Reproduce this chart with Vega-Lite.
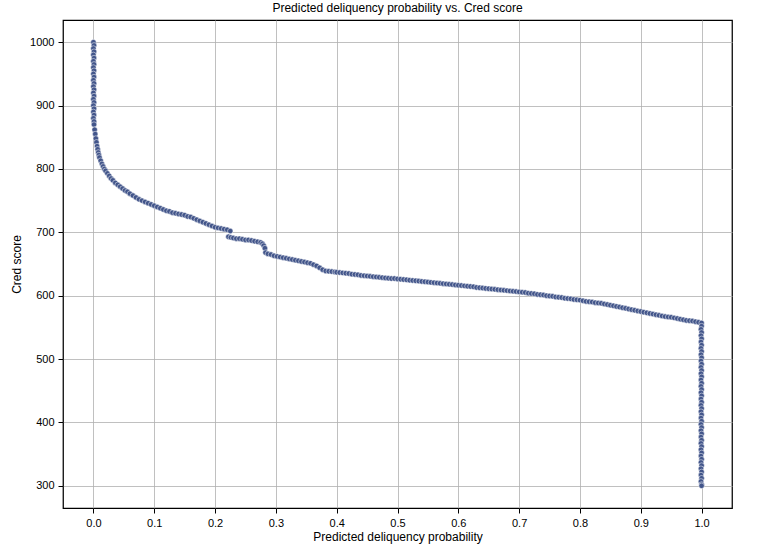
{
  "$schema": "https://vega.github.io/schema/vega-lite/v6.json",
  "autosize": {"type": "none"},
  "width": 669,
  "height": 488,
  "padding": {"left": 63, "top": 20, "right": 49, "bottom": 47},
  "background": "white",
  "title": {"text": "Predicted deliquency probability vs. Cred score", "font": "Liberation Sans", "fontSize": 12, "fontWeight": "normal", "color": "#000000", "offset": 5, "anchor": "middle"},
  "config": {
    "view": {"stroke": "#000000", "strokeWidth": 1.25},
    "axis": {"labelFont": "Liberation Sans", "titleFont": "Liberation Sans", "labelFontSize": 11, "titleFontSize": 12, "titleFontWeight": "normal", "labelColor": "#000000", "titleColor": "#000000", "domain": false, "tickColor": "#000000", "tickSize": 5, "tickWidth": 1, "gridColor": "#b0b0b0", "gridWidth": 0.8, "labelPadding": 4}
  },
  "data": {"values": [
    {"prob":0.000,"score":1000},{"prob":0.001,"score":995},{"prob":0.000,"score":990},{"prob":0.001,"score":985},{"prob":0.000,"score":980},{"prob":0.001,"score":975},{"prob":0.000,"score":970},{"prob":0.001,"score":965},{"prob":0.000,"score":960},{"prob":0.001,"score":955},{"prob":0.000,"score":950},{"prob":0.001,"score":945},{"prob":0.000,"score":940},{"prob":0.001,"score":935},{"prob":0.000,"score":930},{"prob":0.001,"score":925},{"prob":0.000,"score":920},{"prob":0.001,"score":915},{"prob":0.000,"score":910},{"prob":0.001,"score":905},{"prob":0.000,"score":900},{"prob":0.001,"score":895},{"prob":0.000,"score":890},{"prob":0.001,"score":885},{"prob":0.000,"score":880},{"prob":0.001,"score":875},{"prob":0.001,"score":870},
    {"prob":0.002,"score":862},{"prob":0.003,"score":855},{"prob":0.004,"score":848},{"prob":0.005,"score":842},{"prob":0.006,"score":836},{"prob":0.007,"score":831},{"prob":0.008,"score":826},{"prob":0.009,"score":822},{"prob":0.010,"score":818},{"prob":0.012,"score":813},{"prob":0.014,"score":808},{"prob":0.016,"score":804},{"prob":0.018,"score":800},{"prob":0.020,"score":797},{"prob":0.023,"score":793},{"prob":0.026,"score":789},{"prob":0.029,"score":785},{"prob":0.032,"score":782},{"prob":0.036,"score":778},{"prob":0.040,"score":775},{"prob":0.044,"score":772},{"prob":0.048,"score":769},{"prob":0.052,"score":766},{"prob":0.056,"score":764},{"prob":0.060,"score":761},{"prob":0.065,"score":758},{"prob":0.070,"score":755},{"prob":0.075,"score":752},{"prob":0.080,"score":750},{"prob":0.085,"score":748},{"prob":0.090,"score":746},{"prob":0.095,"score":744},{"prob":0.100,"score":742},{"prob":0.105,"score":740},{"prob":0.110,"score":738},{"prob":0.115,"score":736},{"prob":0.120,"score":734},{"prob":0.125,"score":733},{"prob":0.130,"score":731},{"prob":0.135,"score":730},{"prob":0.140,"score":729},{"prob":0.145,"score":728},{"prob":0.150,"score":727},{"prob":0.155,"score":725},{"prob":0.160,"score":724},{"prob":0.165,"score":722},{"prob":0.170,"score":720},{"prob":0.175,"score":718},{"prob":0.180,"score":716},{"prob":0.185,"score":714},{"prob":0.190,"score":712},{"prob":0.195,"score":710},{"prob":0.200,"score":708},{"prob":0.205,"score":707},{"prob":0.210,"score":706},{"prob":0.215,"score":705},{"prob":0.220,"score":704},{"prob":0.225,"score":702},
    {"prob":0.222,"score":693},{"prob":0.226,"score":692},{"prob":0.230,"score":691},{"prob":0.235,"score":690},{"prob":0.240,"score":690},{"prob":0.245,"score":689},{"prob":0.250,"score":688},{"prob":0.255,"score":688},{"prob":0.260,"score":687},{"prob":0.265,"score":686},{"prob":0.270,"score":685},{"prob":0.275,"score":684},{"prob":0.278,"score":682},{"prob":0.280,"score":679},{"prob":0.282,"score":675},
    {"prob":0.283,"score":668},{"prob":0.287,"score":666},{"prob":0.292,"score":665},{"prob":0.297,"score":663},{"prob":0.302,"score":662},{"prob":0.307,"score":661},{"prob":0.312,"score":660},{"prob":0.317,"score":659},{"prob":0.322,"score":658},{"prob":0.327,"score":657},{"prob":0.332,"score":656},{"prob":0.337,"score":655},{"prob":0.342,"score":654},{"prob":0.347,"score":653},{"prob":0.352,"score":652},{"prob":0.357,"score":651},{"prob":0.362,"score":649},{"prob":0.367,"score":647},{"prob":0.372,"score":644},{"prob":0.377,"score":641},{"prob":0.382,"score":639},{"prob":0.387,"score":638.5},{"prob":0.392,"score":638},{"prob":0.397,"score":637.5},
    {"prob":0.400,"score":637},{"prob":0.405,"score":636.5},{"prob":0.410,"score":636},{"prob":0.415,"score":635.5},{"prob":0.420,"score":635},{"prob":0.425,"score":634},{"prob":0.430,"score":633.5},{"prob":0.435,"score":633},{"prob":0.440,"score":632},{"prob":0.445,"score":631.5},{"prob":0.450,"score":631},{"prob":0.455,"score":630.5},{"prob":0.460,"score":630},{"prob":0.465,"score":629.5},{"prob":0.470,"score":629},{"prob":0.475,"score":628.5},{"prob":0.480,"score":628},{"prob":0.485,"score":627.5},{"prob":0.490,"score":627},{"prob":0.495,"score":627},{"prob":0.500,"score":626.5},{"prob":0.505,"score":626},{"prob":0.510,"score":625.5},{"prob":0.515,"score":625},{"prob":0.520,"score":624.5},{"prob":0.525,"score":624},{"prob":0.530,"score":623.5},{"prob":0.535,"score":623},{"prob":0.540,"score":622.5},{"prob":0.545,"score":622},{"prob":0.550,"score":621.5},{"prob":0.555,"score":621},{"prob":0.560,"score":620.5},{"prob":0.565,"score":620},{"prob":0.570,"score":619.5},{"prob":0.575,"score":619},{"prob":0.580,"score":618.5},{"prob":0.585,"score":618},{"prob":0.590,"score":617.5},{"prob":0.595,"score":617},{"prob":0.600,"score":616.5},{"prob":0.605,"score":616},{"prob":0.610,"score":615.5},{"prob":0.615,"score":615},{"prob":0.620,"score":614.5},{"prob":0.625,"score":614},{"prob":0.630,"score":613},{"prob":0.635,"score":612.5},{"prob":0.640,"score":612},{"prob":0.645,"score":611.5},{"prob":0.650,"score":611},{"prob":0.655,"score":610.5},{"prob":0.660,"score":610},{"prob":0.665,"score":609.5},{"prob":0.670,"score":609},{"prob":0.675,"score":608.5},{"prob":0.680,"score":608},{"prob":0.685,"score":607.5},{"prob":0.690,"score":607},{"prob":0.695,"score":606.5},{"prob":0.700,"score":606},{"prob":0.705,"score":605.5},{"prob":0.710,"score":605},{"prob":0.715,"score":604},{"prob":0.720,"score":603.5},{"prob":0.725,"score":603},{"prob":0.730,"score":602},{"prob":0.735,"score":601.5},{"prob":0.740,"score":601},{"prob":0.745,"score":600},{"prob":0.750,"score":599.5},{"prob":0.755,"score":599},{"prob":0.760,"score":598},{"prob":0.765,"score":597.5},{"prob":0.770,"score":597},{"prob":0.775,"score":596},{"prob":0.780,"score":595.5},{"prob":0.785,"score":595},{"prob":0.790,"score":594},{"prob":0.795,"score":593.5},{"prob":0.800,"score":593},{"prob":0.805,"score":592},{"prob":0.810,"score":591},{"prob":0.815,"score":590.5},{"prob":0.820,"score":590},{"prob":0.825,"score":589},{"prob":0.830,"score":588.5},{"prob":0.835,"score":588},{"prob":0.840,"score":587},{"prob":0.845,"score":586},{"prob":0.850,"score":585},{"prob":0.855,"score":584},{"prob":0.860,"score":583},{"prob":0.865,"score":582},{"prob":0.870,"score":581},{"prob":0.875,"score":580},{"prob":0.880,"score":579},{"prob":0.885,"score":578},{"prob":0.890,"score":577},{"prob":0.895,"score":576},{"prob":0.900,"score":575},{"prob":0.905,"score":574},{"prob":0.910,"score":573},{"prob":0.915,"score":572},{"prob":0.920,"score":571},{"prob":0.925,"score":570},{"prob":0.930,"score":569},{"prob":0.935,"score":568},{"prob":0.940,"score":567},{"prob":0.945,"score":566.5},{"prob":0.950,"score":566},{"prob":0.955,"score":565},{"prob":0.960,"score":564},{"prob":0.965,"score":563},{"prob":0.970,"score":562},{"prob":0.975,"score":561},{"prob":0.980,"score":560.5},{"prob":0.985,"score":560},{"prob":0.990,"score":559},{"prob":0.995,"score":558},{"prob":1.000,"score":557},
    {"prob":1.000,"score":552},{"prob":0.999,"score":547},{"prob":1.000,"score":542},{"prob":0.999,"score":537},{"prob":1.000,"score":532},{"prob":0.999,"score":527},{"prob":1.000,"score":522},{"prob":0.999,"score":517},{"prob":1.000,"score":512},{"prob":0.999,"score":507},{"prob":1.000,"score":502},{"prob":0.999,"score":497},{"prob":1.000,"score":492},{"prob":0.999,"score":487},{"prob":1.000,"score":482},{"prob":0.999,"score":477},{"prob":1.000,"score":472},{"prob":0.999,"score":467},{"prob":1.000,"score":462},{"prob":0.999,"score":457},{"prob":1.000,"score":452},{"prob":0.999,"score":447},{"prob":1.000,"score":442},{"prob":0.999,"score":437},{"prob":1.000,"score":432},{"prob":0.999,"score":427},{"prob":1.000,"score":422},{"prob":0.999,"score":417},{"prob":1.000,"score":412},{"prob":0.999,"score":407},{"prob":1.000,"score":402},{"prob":0.999,"score":397},{"prob":1.000,"score":392},{"prob":0.999,"score":387},{"prob":1.000,"score":382},{"prob":0.999,"score":377},{"prob":1.000,"score":372},{"prob":0.999,"score":367},{"prob":1.000,"score":362},{"prob":0.999,"score":357},{"prob":1.000,"score":352},{"prob":0.999,"score":347},{"prob":1.000,"score":342},{"prob":0.999,"score":337},{"prob":1.000,"score":332},{"prob":0.999,"score":327},{"prob":1.000,"score":322},{"prob":0.999,"score":317},{"prob":1.000,"score":312},{"prob":0.999,"score":307},{"prob":1.000,"score":302},{"prob":1.000,"score":300}
  ]},
  "mark": {"type": "point", "shape": "circle", "filled": true, "size": 30, "fill": "#42558a", "stroke": "#ffffff", "strokeWidth": 0.5, "opacity": 1},
  "encoding": {
    "x": {"field": "prob", "type": "quantitative", "title": "Predicted deliquency probability",
      "scale": {"domain": [-0.05, 1.05], "nice": false, "zero": false},
      "axis": {"values": [0, 0.1, 0.2, 0.3, 0.4, 0.5, 0.6, 0.7, 0.8, 0.9, 1.0], "format": ".1f", "titlePadding": 3}},
    "y": {"field": "score", "type": "quantitative", "title": "Cred score",
      "scale": {"domain": [265, 1035], "nice": false, "zero": false},
      "axis": {"values": [300, 400, 500, 600, 700, 800, 900, 1000], "format": "d", "titlePadding": 6}}
  }
}
